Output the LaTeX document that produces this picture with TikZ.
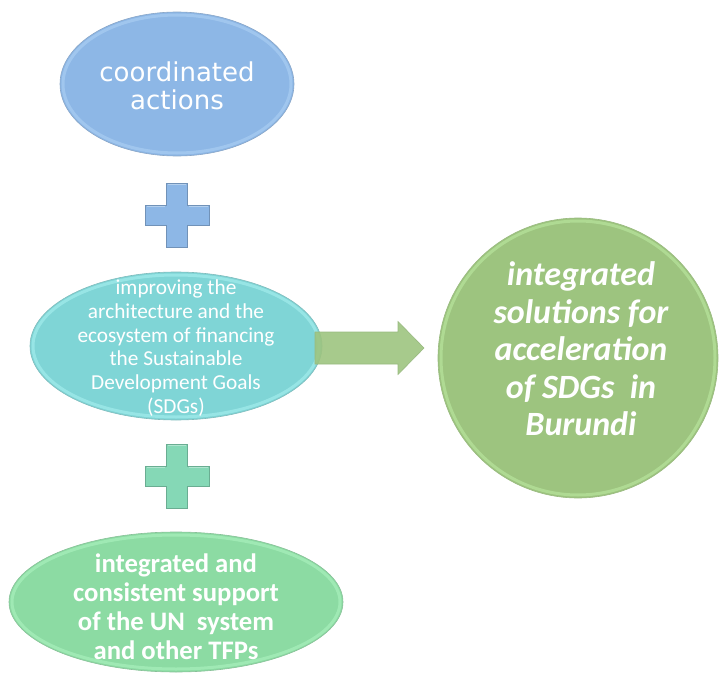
\documentclass[tikz,border=0pt]{standalone}
\usepackage{fontspec}
\setmainfont{Carlito}
\newfontfamily\verd{DejaVu Sans}
\usetikzlibrary{shapes.geometric,calc}
\definecolor{blueA}{HTML}{8DB7E6}
\definecolor{blueRim}{HTML}{A9CDF2}
\definecolor{cyanA}{HTML}{7FD5D6}
\definecolor{cyanRim}{HTML}{A2ECEC}
\definecolor{mintA}{HTML}{85D8B6}
\definecolor{greenA}{HTML}{8CDBA3}
\definecolor{greenRim}{HTML}{A8F0BC}
\definecolor{oliveA}{HTML}{9DC47F}
\definecolor{oliveRim}{HTML}{B7E49C}
\tikzset{
  blob/.style={ellipse, inner sep=0pt, draw=#1!70!gray, line width=0.6pt},
  txt/.style={text=white, align=center, inner sep=0pt},
  crossstyle/.style={line width=0.5pt},
}
\newcommand{\plusshape}[3]{%
  \fill[#2, draw=#3, crossstyle] ($#1+(-10.5,-32)$) -- ($#1+(10.5,-32)$) -- ($#1+(10.5,-10)$) -- ($#1+(32,-10)$) -- ($#1+(32,10)$) -- ($#1+(10.5,10)$) -- ($#1+(10.5,32)$) -- ($#1+(-10.5,32)$) -- ($#1+(-10.5,10)$) -- ($#1+(-32,10)$) -- ($#1+(-32,-10)$) -- ($#1+(-10.5,-10)$) -- cycle;
  \draw[white, opacity=0.35, line width=1.5pt] ($#1+(-9,-30.5)$) -- ($#1+(9,-30.5)$);
  \draw[white, opacity=0.35, line width=1.5pt] ($#1+(-30.5,-8.5)$) -- ($#1+(-12,-8.5)$);
  \draw[white, opacity=0.35, line width=1.5pt] ($#1+(12,-8.5)$) -- ($#1+(30.5,-8.5)$);
}
\begin{document}
\begin{tikzpicture}[x=1pt,y=-1pt]
\useasboundingbox (0,0) rectangle (721,677);
% top ellipse
\node[blob=blueA, fill=blueA, minimum width=234pt, minimum height=144pt] (top) at (177,84) {};
\draw[blueRim, line width=3pt, opacity=0.7] (177,84) ellipse [x radius=114, y radius=69];
\node[txt, font=\verd\fontsize{26}{28}\selectfont] (toptxt) at (177,86) {coordinated\\actions};
% plus 1
\coordinate (p1) at (177,215);
\plusshape{(p1)}{blueA}{blueA!80!black}
% middle ellipse
\node[blob=cyanA, fill=cyanA, minimum width=292pt, minimum height=148pt] (mid) at (176,346) {};
\draw[cyanRim, line width=3pt, opacity=0.7] (176,346) ellipse [x radius=143, y radius=71];
\node[txt, font=\fontsize{21.3}{23.8}\selectfont] (midtxt) at (176,348) {improving the\\architecture and the\\ecosystem of financing\\the Sustainable\\Development Goals\\(SDGs)};
% plus 2
\coordinate (p2) at (177,476);
\plusshape{(p2)}{mintA}{mintA!80!black}
% bottom ellipse
\node[blob=greenA, fill=greenA, minimum width=334pt, minimum height=140pt] (bot) at (176,602) {};
\draw[greenRim, line width=3pt, opacity=0.7] (176,602) ellipse [x radius=164, y radius=67];
\node[txt, font=\bfseries\fontsize{26.7}{29}\selectfont] (bottxt) at (176,607) {integrated and\\consistent support\\of the UN\ \ system\\and other TFPs};
% circle
\node[circle, fill=oliveA, draw=oliveA!85!gray, line width=0.6pt, minimum size=280pt, inner sep=0pt] (goal) at (578,358) {};
\draw[oliveRim, line width=3pt, opacity=0.7] (578,358) circle [radius=137];
\node[txt, font=\bfseries\itshape\fontsize{34}{37.5}\selectfont] (goaltxt) at (581,349) {integrated\\solutions for\\acceleration\\of SDGs\ \ in\\Burundi};
% block arrow
\coordinate (a0) at (315,348);
\fill[oliveA, fill opacity=0.9, draw=oliveA!85!gray, line width=0.6pt]
  ($(a0)+(0,-16)$) -- ($(a0)+(83,-16)$) -- ($(a0)+(83,-26.5)$) -- ($(a0)+(109,0)$)
  -- ($(a0)+(83,26.5)$) -- ($(a0)+(83,16)$) -- ($(a0)+(0,16)$) -- cycle;
\end{tikzpicture}
\end{document}
